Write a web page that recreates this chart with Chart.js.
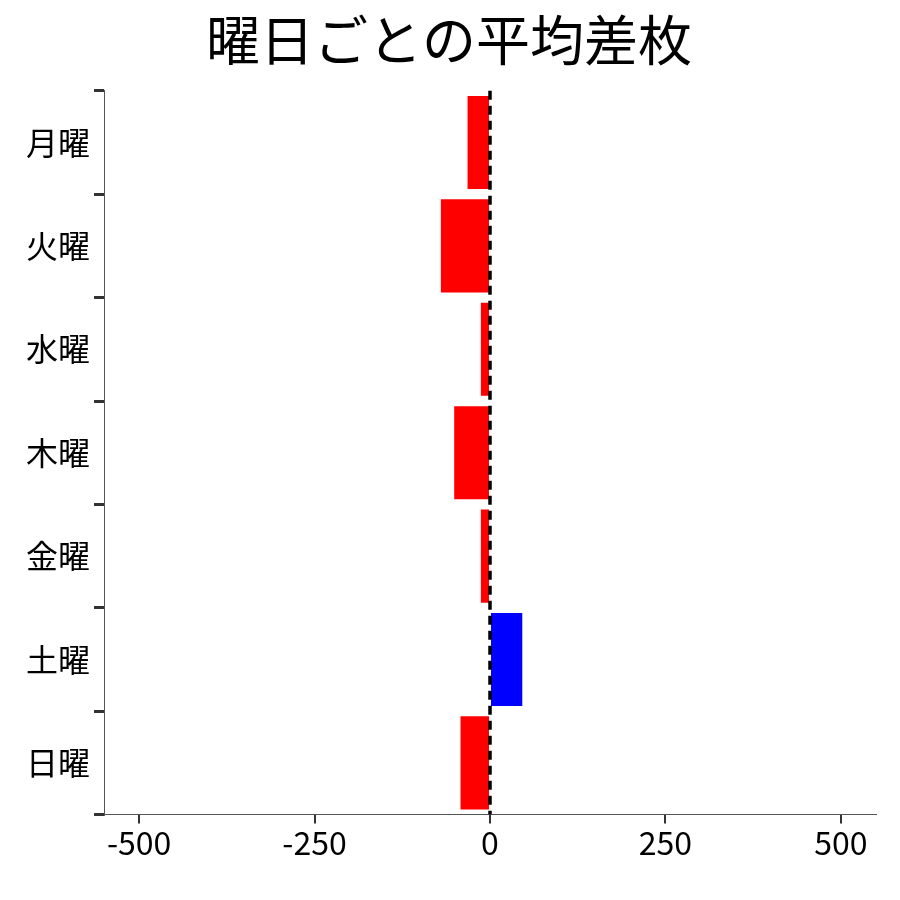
<!DOCTYPE html>
<html><head><meta charset="utf-8">
<script src="https://cdn.jsdelivr.net/npm/chart.js@4/dist/chart.umd.min.js"></script>
<style>body{margin:0;background:#fff}#w{width:900px;height:900px}</style></head>
<body><div id="w"><canvas id="c"></canvas></div>
<script>
const title = "曜日ごとの平均差枚";
const days = ["月曜","火曜","水曜","木曜","金曜","土曜","日曜"];
const avgDiff = [-32,-70,-13,-51,-13,46,-42];
const xTicks = [-500,-250,0,250,500];
const refValue = 0;
const F = "'Noto Sans CJK JP','Noto Sans',sans-serif";
const refLine = {id:'ref',afterDatasetsDraw(ch){const x=ch.scales.x.getPixelForValue(refValue),a=ch.chartArea,c=ch.ctx;c.save();c.strokeStyle='#000';c.lineWidth=3.5;c.setLineDash([9,6]);c.beginPath();c.moveTo(x,a.top);c.lineTo(x,a.bottom);c.stroke();c.restore();}};
new Chart(document.getElementById('c'),{type:'bar',
data:{labels:days,datasets:[{data:avgDiff,backgroundColor:avgDiff.map(v=>v<0?'#ff0000':'#0000ff'),barPercentage:0.9,categoryPercentage:1}]},
options:{indexAxis:'y',responsive:true,maintainAspectRatio:false,animation:false,
layout:{padding:{left:22,right:24,bottom:38,top:0}},
plugins:{legend:{display:false},tooltip:{enabled:false},title:{display:true,text:title,color:'#000',font:{family:F,size:54,weight:'normal'},padding:{top:8,bottom:18}}},
scales:{x:{min:-550,max:550,afterBuildTicks(s){s.ticks=xTicks.map(v=>({value:v}));},grid:{display:true,drawOnChartArea:false,drawTicks:true,tickLength:9,color:'#333',lineWidth:2},border:{color:'#555',width:1},ticks:{color:'#000',font:{family:F,size:32},padding:0,callback:v=>String(v)}},
y:{grid:{display:true,drawOnChartArea:false,tickLength:10,color:'#333',lineWidth:3},border:{color:'#555',width:1},ticks:{color:'#000',font:{family:F,size:32},padding:4}}}},
plugins:[refLine]});
</script></body></html>
